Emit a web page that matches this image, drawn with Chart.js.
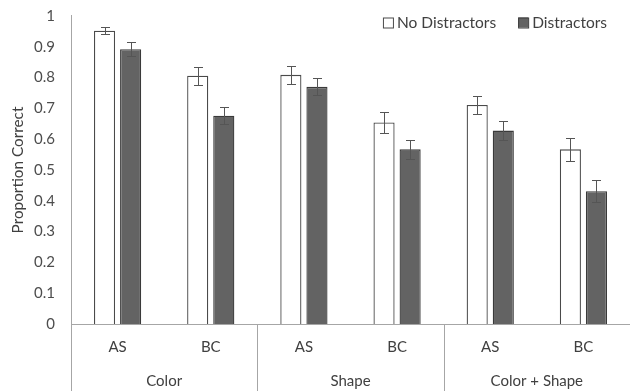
<!DOCTYPE html>
<html>
<head>
<meta charset="utf-8">
<script src="https://cdn.jsdelivr.net/npm/chart.js@4/dist/chart.umd.min.js"></script>
<style>
  html, body { margin: 0; padding: 0; background: #fff; }
  #wrap { width: 630px; height: 391px; }
</style>
</head>
<body>
<div id="wrap"><canvas id="propChart" width="630" height="391"></canvas></div>
<script>
const subLabels = ['AS', 'BC', 'AS', 'BC', 'AS', 'BC'];
const groupLabels = ['Color', 'Shape', 'Color + Shape'];
const noDistractors = [0.952, 0.806, 0.809, 0.654, 0.711, 0.567];
const distractors = [0.892, 0.676, 0.770, 0.567, 0.628, 0.431];
const noDistractorsErr = [0.012, 0.029, 0.030, 0.034, 0.029, 0.037];
const distractorsErr = [0.022, 0.028, 0.028, 0.030, 0.030, 0.036];

const textColor = '#404040';
const axisColor = '#a6a6a6';
const fontFamily = 'Lato, "Open Sans", sans-serif';

// error bars drawn on top of each bar
const errorBars = {
    id: 'errorBars',
    afterDatasetsDraw(chart) {
        const ctx = chart.ctx;
        const y = chart.scales.y;
        chart.data.datasets.forEach((ds, i) => {
            const meta = chart.getDatasetMeta(i);
            meta.data.forEach((bar, j) => {
                const v = ds.data[j];
                const e = ds.errors[j];
                const top = Math.round(y.getPixelForValue(v + e)) + 0.5;
                const bot = Math.round(y.getPixelForValue(v - e)) + 0.5;
                const bx = Math.round(bar.x) + 0.5;
                ctx.save();
                ctx.strokeStyle = '#555';
                ctx.lineWidth = 1;
                ctx.beginPath();
                ctx.moveTo(bx, top); ctx.lineTo(bx, bot);
                ctx.moveTo(bx - 4.5, top); ctx.lineTo(bx + 4.5, top);
                ctx.moveTo(bx - 4.5, bot); ctx.lineTo(bx + 4.5, bot);
                ctx.stroke();
                ctx.restore();
            });
        });
    }
};

// second row of x labels, separators, and the legend in the top right
const groupAxis = {
    id: 'groupAxis',
    afterDraw(chart) {
        const ctx = chart.ctx;
        const x = chart.scales.x;
        const area = chart.chartArea;
        const h = chart.height;
        ctx.save();
        ctx.strokeStyle = axisColor;
        ctx.lineWidth = 1;
        ctx.beginPath();
        const lx = Math.round(area.left) + 0.5;
        ctx.moveTo(lx, area.bottom);
        ctx.lineTo(lx, h);
        ctx.moveTo(lx, area.top);
        ctx.lineTo(lx, area.top - 1);
        for (let g = 1; g < groupLabels.length; g++) {
            const sx = (x.getPixelForValue(g * 2 - 1) + x.getPixelForValue(g * 2)) / 2;
            ctx.moveTo(Math.round(sx) + 0.5, area.bottom);
            ctx.lineTo(Math.round(sx) + 0.5, h);
        }
        ctx.stroke();
        ctx.fillStyle = textColor;
        ctx.font = '15px ' + fontFamily;
        ctx.textAlign = 'center';
        ctx.textBaseline = 'middle';
        groupLabels.forEach((g, k) => {
            const cx = (x.getPixelForValue(k * 2) + x.getPixelForValue(k * 2 + 1)) / 2;
            ctx.fillText(g, cx, area.bottom + 57);
        });

        // legend
        ctx.font = '15.5px ' + fontFamily;
        ctx.textAlign = 'left';
        const items = chart.data.datasets.map(ds => ({
            text: ds.label, fill: ds.backgroundColor, stroke: ds.borderColor
        }));
        let cursor = 607;
        const cy = 23;
        for (let i = items.length - 1; i >= 0; i--) {
            const it = items[i];
            const tw = ctx.measureText(it.text).width;
            const tx = cursor - tw;
            const bx = tx - 14;
            ctx.fillStyle = textColor;
            ctx.fillText(it.text, tx, cy);
            ctx.fillStyle = it.fill;
            ctx.fillRect(bx, cy - 5.5, 10, 10);
            ctx.strokeStyle = it.stroke;
            ctx.lineWidth = 1;
            ctx.strokeRect(bx + 0.5, cy - 5, 10, 10);
            cursor = bx - 22;
        }
        ctx.restore();
    }
};

const ctx = document.getElementById('propChart').getContext('2d');
new Chart(ctx, {
    type: 'bar',
    data: {
        labels: subLabels,
        datasets: [
            {
                label: 'No Distractors',
                data: noDistractors,
                errors: noDistractorsErr,
                backgroundColor: '#ffffff',
                borderColor: '#4a4a4a',
                borderWidth: 1.3
            },
            {
                label: 'Distractors',
                data: distractors,
                errors: distractorsErr,
                backgroundColor: '#636363',
                borderColor: '#3a3a3a',
                borderWidth: 1.3
            }
        ]
    },
    options: {
        responsive: false,
        animation: false,
        devicePixelRatio: 1,
        layout: { padding: { top: 16, right: 0, bottom: 0, left: 0 } },
        datasets: {
            bar: { categoryPercentage: 0.56, barPercentage: 0.81 }
        },
        plugins: {
            legend: { display: false },
            tooltip: { enabled: false }
        },
        scales: {
            x: {
                grid: { display: false, drawTicks: false },
                border: { display: true, color: axisColor },
                ticks: {
                    color: textColor,
                    font: { family: fontFamily, size: 15 },
                    padding: 14
                },
                afterFit: scale => { scale.height = 67; }
            },
            y: {
                min: 0,
                max: 1,
                grid: { display: false, drawTicks: false },
                border: { display: true, color: axisColor },
                ticks: {
                    stepSize: 0.1,
                    color: '#4d4d4d',
                    font: { family: fontFamily, size: 15 },
                    padding: 16,
                    callback: v => String(+v.toFixed(1))
                },
                title: {
                    display: true,
                    text: 'Proportion Correct',
                    color: textColor,
                    font: { family: fontFamily, size: 15.3 },
                    padding: { top: 9, bottom: 4 }
                },
                afterFit: scale => {
                    scale.width = 71;
                    scale.paddingTop = 0;
                }
            }
        }
    },
    plugins: [errorBars, groupAxis]
});
</script>
</body>
</html>
